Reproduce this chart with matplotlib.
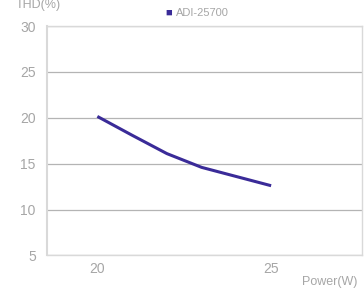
import numpy as np
import matplotlib.pyplot as plt

plt.rcParams['font.family'] = ['Liberation Sans', 'DejaVu Sans']

power = [20, 21, 22, 23, 24, 25]
thd = [20.15, 18.1, 16.1, 14.6, 13.6, 12.6]
series_name = 'ADI-25700'
yticks = [5, 10, 15, 20, 25, 30]
xticks = [20, 25]

fig = plt.figure(figsize=(3.64, 2.96), dpi=100)
ax = fig.add_axes([0.129, 0.137, 0.866, 0.775])

ax.plot(power, thd, color='#3a2b98', lw=2.2, solid_capstyle='butt', zorder=3)

ax.set_xlim(18.55, 27.62)
ax.set_ylim(5, 30)
ax.set_yticks(yticks)
ax.set_xticks(xticks)
ax.grid(True, axis='y', color='#b4b4b4', lw=0.9)
ax.set_axisbelow(True)
for s in ax.spines.values():
    s.set_color('#d9d9d9')
    s.set_linewidth(1.0)
ax.spines['left'].set_linewidth(1.5)
ax.tick_params(length=0, labelsize=10, labelcolor='#a6a6a6')
ax.tick_params(axis='y', pad=8)
ax.tick_params(axis='x', pad=5)

fig.text(0.044, 0.983, 'THD(%)', fontsize=9, color='#a6a6a6', ha='left', va='center')
fig.text(0.981, 0.046, 'Power(W)', fontsize=9, color='#a6a6a6', ha='right', va='center')
fig.text(0.455, 0.957, '\u25a0', fontsize=8, color='#3a2b98', ha='left', va='center')
fig.text(0.483, 0.957, series_name, fontsize=8, color='#a6a6a6', ha='left', va='center')

fig.savefig('out.png', dpi=100)
